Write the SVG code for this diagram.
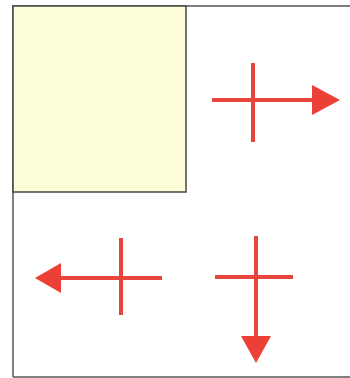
<svg xmlns="http://www.w3.org/2000/svg" width="350" height="378" viewBox="0 0 350 378">
<style>
.frame{fill:none;stroke:#555;stroke-width:1.5}
.sq{fill:#fdfed8;stroke:#444;stroke-width:1.5}
.ln{stroke:#e8453c;stroke-width:4;fill:none}
.hd{fill:#ec4036}
</style>
<rect width="350" height="378" fill="#fff"/>
<g id="frame"><path class="frame" d="M13,377 V6 H352 M13,377 H352"/></g>
<g id="square"><rect class="sq" x="13" y="6" width="173" height="186"/></g>
<g id="connectors">
<g id="arrow-right">
<line class="ln" x1="212" y1="100" x2="314" y2="100"/>
<line class="ln" x1="253" y1="63" x2="253" y2="142"/>
<polygon class="hd" points="312,85 340,100 312,115"/>
</g>
<g id="arrow-left">
<line class="ln" x1="162" y1="278" x2="58" y2="278"/>
<line class="ln" x1="121" y1="238" x2="121" y2="315"/>
<polygon class="hd" points="61,263 35,278 61,293"/>
</g>
<g id="arrow-down">
<line class="ln" x1="215" y1="277" x2="293" y2="277"/>
<line class="ln" x1="256" y1="236" x2="256" y2="338"/>
<polygon class="hd" points="241,336 271,336 256,363"/>
</g>
</g>
</svg>
